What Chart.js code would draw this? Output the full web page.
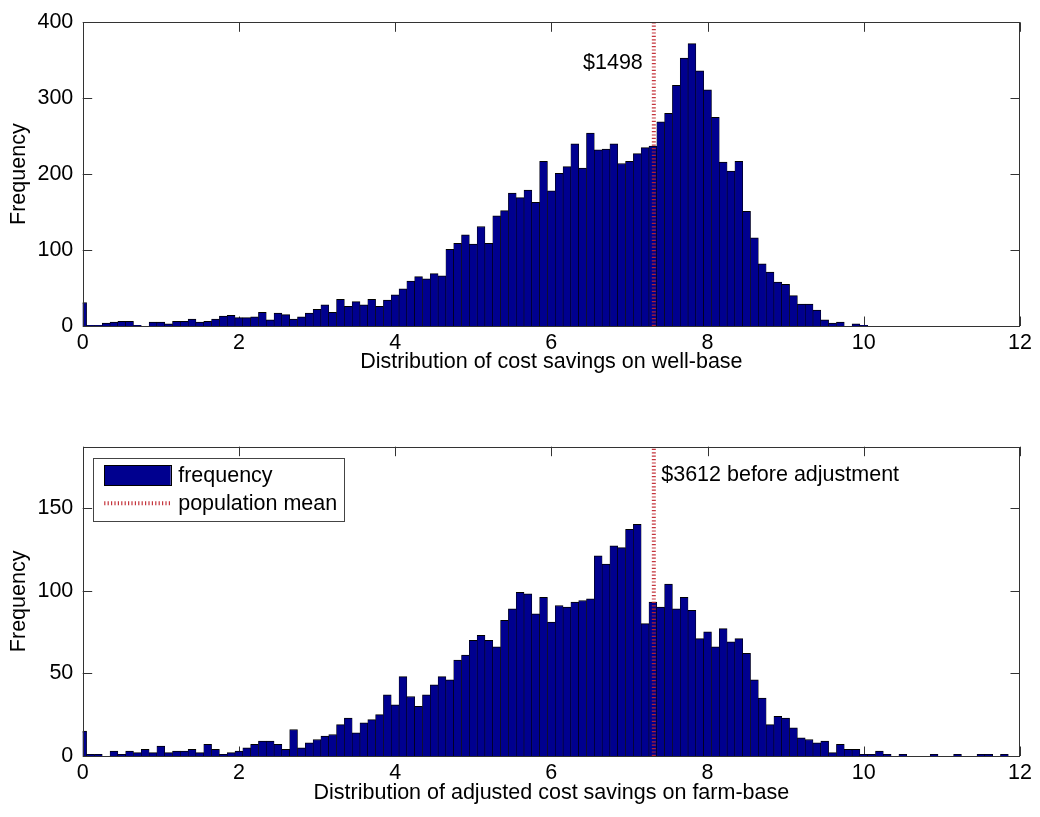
<!DOCTYPE html>
<html>
<head>
<meta charset="utf-8">
<title>Cost savings distributions</title>
<script src="https://cdn.jsdelivr.net/npm/chart.js@4/dist/chart.umd.min.js"></script>
<style>
  html, body { margin: 0; padding: 0; background: #fff; }
  #wrap { position: relative; width: 1040px; height: 817px; }
  #topChart { position: absolute; left: 0; top: 0; }
  #bottomChart { position: absolute; left: 0; top: 400px; }
</style>
</head>
<body>
<div id="wrap">
  <canvas id="topChart" width="1040" height="400"></canvas>
  <canvas id="bottomChart" width="1040" height="417"></canvas>
</div>
<script>
// Histogram bin width on the log-savings axis
const BIN_WIDTH = 0.1;

// Counts per bin, well-base savings (first bin centred at 0)
const wellCounts = [
  31, 1, 1, 4, 5, 6, 6, 1, 0, 5,
  5, 3, 6, 6, 9, 5, 6, 9, 13, 14,
  11, 11, 12, 18, 8, 17, 15, 9, 12, 17,
  22, 28, 18, 35, 26, 32, 28, 35, 26, 34,
  41, 49, 59, 65, 62, 69, 66, 101, 109, 120,
  108, 131, 109, 145, 152, 175, 169, 179, 163, 217,
  178, 201, 210, 240, 208, 254, 232, 233, 240, 214,
  217, 227, 235, 237, 269, 280, 317, 353, 372, 336,
  311, 275, 216, 204, 217, 151, 116, 82, 71, 58,
  55, 40, 29, 29, 21, 8, 4, 5, 0, 3,
  1
];

// Counts per bin, adjusted farm-base savings
const farmCounts = [
  15, 1, 1, 0, 3, 1, 3, 2, 4, 2,
  6, 2, 3, 3, 4, 2, 7, 4, 1, 2,
  3, 5, 7, 9, 9, 7, 4, 16, 5, 8,
  10, 12, 13, 19, 23, 14, 20, 22, 25, 37,
  31, 48, 36, 30, 37, 43, 48, 46, 58, 61,
  70, 73, 70, 66, 82, 89, 99, 98, 86, 96,
  81, 91, 90, 93, 94, 95, 121, 116, 127, 126,
  137, 140, 80, 93, 90, 104, 89, 96, 88, 71,
  75, 66, 77, 69, 71, 62, 46, 35, 19, 24,
  23, 17, 11, 10, 8, 9, 2, 7, 4, 4,
  1, 1, 3, 1, 0, 1, 0, 0, 0, 1,
  0, 0, 1, 0, 0, 1, 1, 0, 1
];

// Axis ticks
const xTicks = [0, 2, 4, 6, 8, 10, 12];
const topYTicks = [0, 100, 200, 300, 400];
const bottomYTicks = [0, 50, 100, 150];
const topYMax = 400;
const bottomYMax = 187;

// Population mean savings in dollars; the axis is log dollars
const POP_MEAN = 1498;
const ADJ_MEAN = 3612;
const meanLog = Math.log(POP_MEAN);

const topNote = '$' + POP_MEAN;
const bottomNote = '$' + ADJ_MEAN + ' before adjustment';
const topXLabel = 'Distribution of cost savings on well-base';
const bottomXLabel = 'Distribution of adjusted cost savings on farm-base';
const yLabel = 'Frequency';
const barLabel = 'frequency';
const meanLabel = 'population mean';

const FONT = '"Liberation Sans", Arial, Helvetica, sans-serif';
const FONT_SIZE = 21.5;
const BAR_FILL = '#00008f';
const MEAN_COLOR = 'rgba(192, 36, 44, 0.92)';
const MEAN_DASH = [1.2, 2.2];
const AXIS_COLOR = '#333';

const toPoints = counts => counts.map((c, i) => ({ x: +(i * BIN_WIDTH).toFixed(1), y: c }));

// Inward tick marks, the axes box, the text note and the in-plot legend
const framePlugin = {
  id: 'frame',
  beforeDatasetsDraw(chart) {
    const { ctx, chartArea: a, scales } = chart;
    const len = 9.5;
    ctx.save();
    ctx.strokeStyle = AXIS_COLOR;
    ctx.lineWidth = 1;
    ctx.beginPath();
    scales.x.ticks.forEach(t => {
      const px = Math.round(scales.x.getPixelForValue(t.value)) + 0.5;
      ctx.moveTo(px, a.bottom); ctx.lineTo(px, a.bottom - len);
      ctx.moveTo(px, a.top); ctx.lineTo(px, a.top + len);
    });
    scales.y.ticks.forEach(t => {
      const py = Math.round(scales.y.getPixelForValue(t.value)) + 0.5;
      ctx.moveTo(a.left, py); ctx.lineTo(a.left + len, py);
      ctx.moveTo(a.right, py); ctx.lineTo(a.right - len, py);
    });
    ctx.stroke();
    ctx.restore();
  },
  afterDatasetsDraw(chart, args, opts) {
    const { ctx, chartArea: a, scales } = chart;
    ctx.save();
    ctx.strokeStyle = AXIS_COLOR;
    ctx.lineWidth = 1;
    ctx.strokeRect(Math.round(a.left) + 0.5, Math.round(a.top) + 0.5,
                   Math.round(a.right - a.left) - 1, Math.round(a.bottom - a.top));
    ctx.font = FONT_SIZE + 'px ' + FONT;
    ctx.fillStyle = '#000';
    if (opts.note) {
      const n = opts.note;
      const px = scales.x.getPixelForValue(n.x) + n.dx;
      const py = scales.y.getPixelForValue(n.y);
      ctx.textAlign = n.align;
      ctx.textBaseline = 'alphabetic';
      ctx.fillText(n.text, px, py);
    }
    if (opts.legend) {
      const ds = chart.data.datasets;
      const bx = a.left + 10, by = a.top + 11.6, bw = 250.6, bh = 63.4;
      ctx.fillStyle = '#fff';
      ctx.fillRect(bx, by, bw, bh);
      ctx.strokeStyle = '#444';
      ctx.strokeRect(Math.round(bx) + 0.5, Math.round(by) + 0.5, Math.round(bw), Math.round(bh));
      // bar swatch
      const sx = bx + 11.5, sw = 66.5;
      ctx.fillStyle = ds[0].backgroundColor;
      ctx.fillRect(sx, by + 7, sw, 20.5);
      ctx.strokeStyle = '#000';
      ctx.strokeRect(Math.round(sx) + 0.5, Math.round(by + 7) + 0.5, Math.round(sw), 20);
      // mean line swatch
      ctx.strokeStyle = ds[1].borderColor;
      ctx.lineWidth = ds[1].borderWidth;
      ctx.setLineDash(ds[1].borderDash);
      ctx.beginPath();
      ctx.moveTo(sx, by + 45); ctx.lineTo(sx + sw, by + 45);
      ctx.stroke();
      ctx.setLineDash([]);
      ctx.fillStyle = '#000';
      ctx.textAlign = 'left';
      ctx.textBaseline = 'middle';
      ctx.fillText(ds[0].label, bx + 85.5, by + 17.6);
      ctx.fillText(ds[1].label, bx + 85.5, by + 45.6);
    }
    ctx.restore();
  }
};

function makeChart(canvasId, counts, yMax, yTicks, xLabel, cfg) {
  return new Chart(document.getElementById(canvasId), {
    data: {
      datasets: [
        {
          type: 'bar',
          label: barLabel,
          data: toPoints(counts),
          backgroundColor: BAR_FILL,
          borderColor: '#000',
          borderWidth: { top: 1, left: 0.6, right: 0.6, bottom: 0 },
          barPercentage: 1,
          categoryPercentage: 1,
          order: 2
        },
        {
          type: 'line',
          label: meanLabel,
          data: [{ x: meanLog, y: 0 }, { x: meanLog, y: yMax }],
          borderColor: MEAN_COLOR,
          borderWidth: 4,
          borderDash: MEAN_DASH,
          pointRadius: 0,
          fill: false,
          order: 1
        }
      ]
    },
    options: {
      responsive: false,
      animation: false,
      devicePixelRatio: 1,
      layout: { padding: { top: cfg.padTop, right: 20, left: 0, bottom: 0 } },
      plugins: {
        legend: { display: false },
        tooltip: { enabled: false },
        frame: { note: cfg.note, legend: cfg.legend }
      },
      scales: {
        x: {
          type: 'linear',
          min: 0, max: 12,
          offset: false,
          afterBuildTicks: s => { s.ticks = xTicks.map(v => ({ value: v })); },
          afterFit: s => { s.height = cfg.xHeight; },
          grid: { display: false, drawTicks: false, offset: false },
          border: { display: false },
          ticks: { color: '#000', padding: 4.1, maxRotation: 0,
                   font: { family: FONT, size: FONT_SIZE } },
          title: { display: true, text: xLabel, color: '#000',
                   padding: { top: 0, bottom: cfg.titlePad },
                   font: { family: FONT, size: FONT_SIZE } }
        },
        y: {
          type: 'linear',
          min: 0, max: yMax,
          afterBuildTicks: s => { s.ticks = yTicks.map(v => ({ value: v })); },
          afterFit: s => { s.width = 82.7; },
          grid: { display: false, drawTicks: false },
          border: { display: false },
          ticks: { color: '#000', padding: 9.4,
                   font: { family: FONT, size: FONT_SIZE } },
          title: { display: true, text: yLabel, color: '#000',
                   padding: { top: 6.6, bottom: 0 },
                   font: { family: FONT, size: FONT_SIZE } }
        }
      }
    },
    plugins: [framePlugin]
  });
}

makeChart('topChart', wellCounts, topYMax, topYTicks, topXLabel, {
  padTop: 16, xHeight: 74, titlePad: 24.6, legend: false,
  note: { text: topNote, x: meanLog, dx: -11, y: 339, align: 'right' }
});

makeChart('bottomChart', farmCounts, bottomYMax, bottomYTicks, bottomXLabel, {
  padTop: 46.7, xHeight: 61, titlePad: 11.5, legend: true,
  note: { text: bottomNote, x: meanLog, dx: 7.4, y: 166, align: 'left' }
});
</script>
</body>
</html>
